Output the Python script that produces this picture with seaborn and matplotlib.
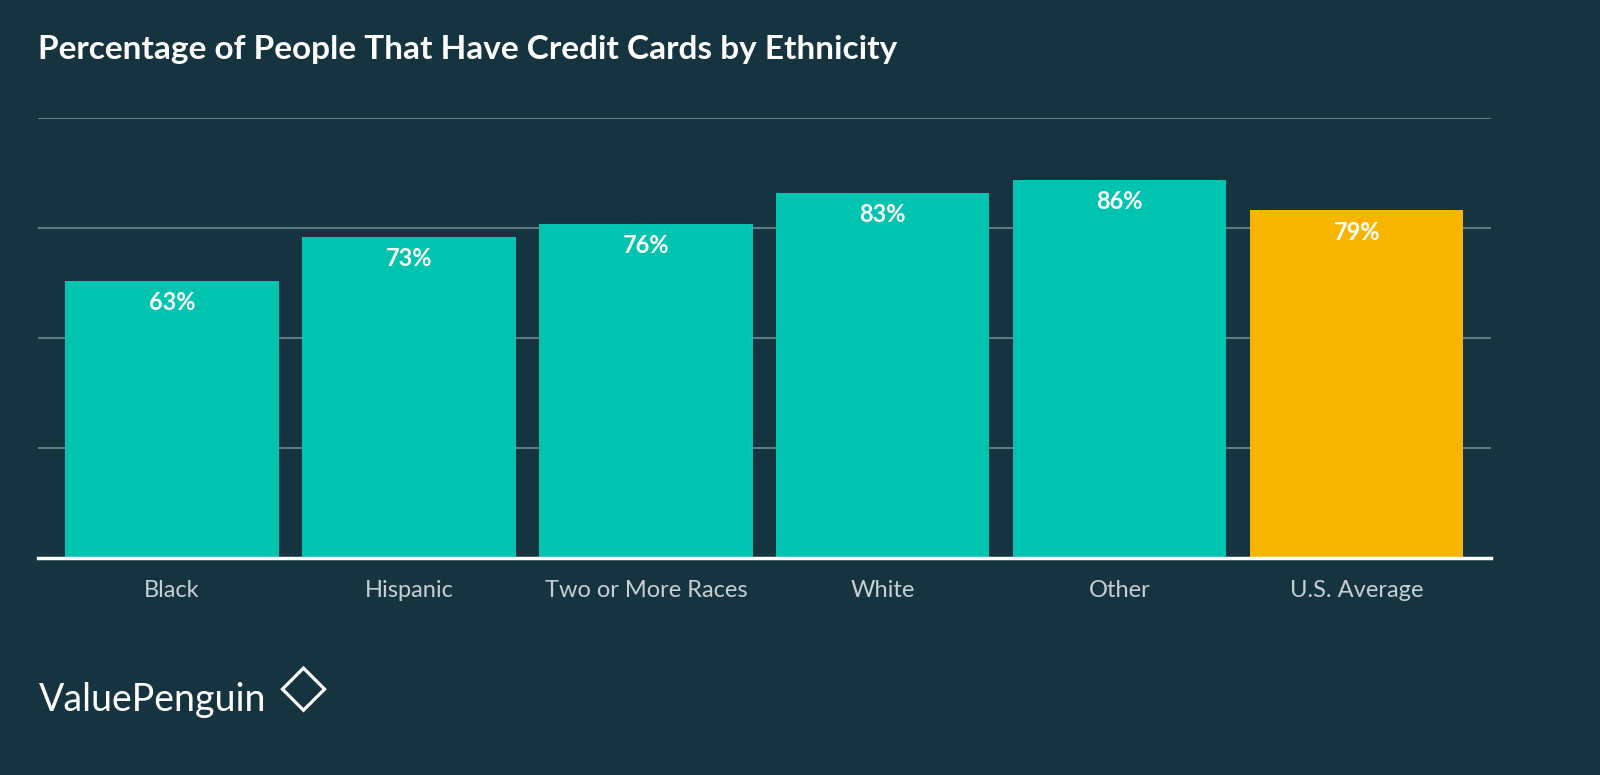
import matplotlib
matplotlib.use("Agg")
import matplotlib.pyplot as plt
import seaborn as sns
import pandas as pd

plt.rcParams["font.family"] = "Lato"

categories = ["Black", "Hispanic", "Two or More Races", "White", "Other", "U.S. Average"]
values = [63, 73, 76, 83, 86, 79]
labels = ["63%", "73%", "76%", "83%", "86%", "79%"]
colors = ["#00C4B0"] * 5 + ["#F8B500"]
bg = "#16343F"

df = pd.DataFrame({"cat": categories, "val": values})
fig = plt.figure(figsize=(16, 7.75), dpi=100, facecolor=bg)
ax = fig.add_axes([0.02375, 0.28, 0.908, 0.5677], facecolor=bg)
sns.barplot(data=df, x="cat", y="val", hue="cat", palette=colors, legend=False,
            width=0.9, saturation=1, ax=ax, zorder=3)
ax.set_ylim(0, 100)
ax.set_xlim(-0.566, 5.566)
ax.set_yticks([25, 50, 75, 100])
ax.yaxis.grid(True, color="#6f8a93", linewidth=1.2, zorder=0)
ax.set_yticklabels([])
ax.tick_params(axis="y", length=0)
ax.tick_params(axis="x", length=0, colors="#c6d0d4", labelsize=17, pad=16)
ax.set_xlabel(""); ax.set_ylabel("")
for s in ["top", "right", "left"]:
    ax.spines[s].set_visible(False)
ax.spines["bottom"].set_color("white")
ax.spines["bottom"].set_linewidth(2.5)
ax.spines["bottom"].set_zorder(4)
for i, (v, l) in enumerate(zip(values, labels)):
    ax.text(i, v - 2.4, l, ha="center", va="top", color="white", fontsize=17, fontweight="bold")
fig.text(0.024, 1 - 50 / 775, "Percentage of People That Have Credit Cards by Ethnicity",
         color="white", fontsize=24, fontweight="bold", va="center", ha="left")
fig.text(0.024, 1 - 700 / 775, "ValuePenguin", color="white", fontsize=27, va="center", ha="left")
fig.text(0.175, 1 - 688 / 775, "◇", color="white", fontsize=44, va="center", ha="left",
         fontfamily="DejaVu Sans")
fig.savefig("out.png", facecolor=bg)
